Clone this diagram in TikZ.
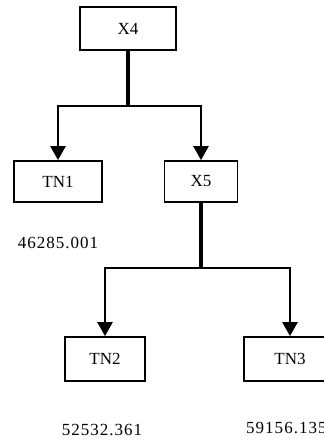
\documentclass[tikz,border=0pt]{standalone}
\usepackage{fontspec}
\setmainfont{Liberation Serif}
\usetikzlibrary{arrows.meta}

\begin{document}
\begin{tikzpicture}[x=1pt, y=-1pt,
  font=\fontsize{17}{20}\selectfont,
  box/.style={draw, line width=1.8pt, inner sep=0pt},
  num/.style={font=\fontsize{17}{20}\selectfont\addfontfeature{LetterSpace=6}, inner sep=0pt},
  stem/.style={line width=3.6pt},
  fl/.style={line width=2.6pt, -{Triangle[width=15pt,length=14pt]}}]
\useasboundingbox (0,0) rectangle (323,443);

% the two levels of the tree
\node[box, minimum width=96pt, minimum height=43pt] (x4) at (128,28.5) {X4};
\node[box, minimum width=88pt, minimum height=41pt] (tn1) at (58,181.5) {TN1};
\node[box, minimum width=73pt, minimum height=41pt] (x5) at (201,181.5) {X5};
\node[box, minimum width=80pt, minimum height=44pt] (tn2) at (105,359) {TN2};
\node[box, minimum width=92pt, minimum height=44pt] (tn3) at (290,359) {TN3};

% forks below X4 and X5
\coordinate (f4) at (128,106);
\coordinate (f5) at (201,268);
\draw[stem] (x4.south) -- (f4);
\draw[fl] (f4) -| (tn1.north);
\draw[fl] (f4) -| (x5.north);
\draw[stem] (x5.south) -- (f5);
\draw[fl] (f5) -| (tn2.north);
\draw[fl] (f5) -| (tn3.north);

% values under the leaves
\node[num] (v1) at (58,243) {46285.001};
\node[num] (v2) at (102,430) {52532.361};
\node[num, anchor=west] (v3) at (246,428) {59156.135};
\end{tikzpicture}
\end{document}
